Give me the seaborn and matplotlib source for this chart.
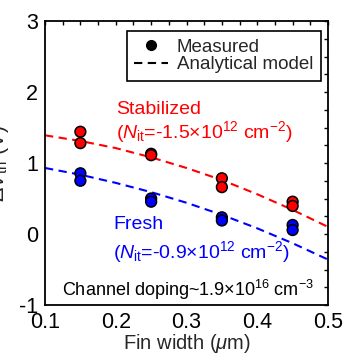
import matplotlib
matplotlib.use("Agg")
import matplotlib.pyplot as plt
from matplotlib.lines import Line2D
from matplotlib.ticker import MultipleLocator
import seaborn as sns
import pandas as pd

sns.set_style("white")
plt.rcParams["font.family"] = ["Liberation Sans", "DejaVu Sans"]
plt.rcParams["mathtext.fontset"] = "custom"
plt.rcParams["mathtext.rm"] = "Liberation Sans"
plt.rcParams["mathtext.it"] = "Liberation Sans:italic"

# Measured threshold-voltage shift (two devices per fin width)
fin_width = [0.15, 0.25, 0.35, 0.45]
stabilized_dev1 = [1.44, 1.13, 0.785, 0.455]
stabilized_dev2 = [1.28, 1.11, 0.66, 0.395]
fresh_dev1 = [0.855, 0.50, 0.235, 0.127]
fresh_dev2 = [0.75, 0.455, 0.19, 0.056]

# Analytical model curves
model_width = [0.10, 0.15, 0.20, 0.25, 0.30, 0.35, 0.40, 0.45, 0.50]
model_stabilized = [1.39, 1.31, 1.21, 1.08, 0.93, 0.76, 0.56, 0.34, 0.10]
model_fresh = [0.93, 0.835, 0.72, 0.59, 0.44, 0.27, 0.08, -0.13, -0.36]

RED = "#ff0000"
BLUE = "#0000ff"

meas = pd.DataFrame({
    "w": fin_width * 4,
    "dvth": stabilized_dev1 + stabilized_dev2 + fresh_dev1 + fresh_dev2,
    "state": ["Stabilized"] * 8 + ["Fresh"] * 8,
})
model = pd.DataFrame({
    "w": model_width * 2,
    "dvth": model_stabilized + model_fresh,
    "state": ["Stabilized"] * len(model_width) + ["Fresh"] * len(model_width),
})
palette = {"Stabilized": RED, "Fresh": BLUE}

fig = plt.figure(figsize=(3.5, 3.54), dpi=100)
ax = fig.add_axes([45 / 350, 49 / 354, 283 / 350, 284 / 354])

sns.lineplot(data=model, x="w", y="dvth", hue="state", palette=palette,
             linestyle=(0, (4, 2.6)), linewidth=1.5, legend=False, ax=ax,
             zorder=2)
sns.scatterplot(data=meas, x="w", y="dvth", hue="state", palette=palette,
                s=60, edgecolor="black", linewidth=1.1, legend=False, ax=ax,
                zorder=3)

ax.set_xlim(0.1, 0.5)
ax.set_ylim(-1, 3)
ax.set_xticks([0.1, 0.2, 0.3, 0.4, 0.5])
ax.set_xticklabels(["0.1", "0.2", "0.3", "0.4", "0.5"])
ax.set_yticks([-1, 0, 1, 2, 3])
ax.set_yticklabels(["-1", "0", "1", "2", "3"])
ax.xaxis.set_minor_locator(MultipleLocator(0.025))
ax.yaxis.set_minor_locator(MultipleLocator(0.25))
ax.tick_params(which="both", direction="in", top=True, right=True,
               length=3, width=1.0, color="black")
ax.tick_params(which="major", labelsize=15.5, colors="black")
ax.tick_params(axis="x", which="major", pad=5)
ax.tick_params(axis="y", which="major", pad=5)
for sp in ax.spines.values():
    sp.set_linewidth(1.3)
    sp.set_color("black")

ax.set_xlabel(r"Fin width ($\mu$m)", fontsize=14.5, labelpad=-1)
ax.set_ylabel(r"$\Delta V_{\mathrm{th}}$ (V)", fontsize=15.5)
ax.yaxis.set_label_coords(-0.12, 0.5)

ax.text(0.251, 0.690, "Stabilized", color=RED, fontsize=14,
        transform=ax.transAxes, va="center", ha="left")
ax.text(0.251, 0.609, r"($N_{\mathrm{it}}$=-1.5×10$^{12}$ cm$^{-2}$)",
        color=RED, fontsize=14, transform=ax.transAxes, va="center", ha="left")
ax.text(0.240, 0.282, "Fresh", color=BLUE, fontsize=14,
        transform=ax.transAxes, va="center", ha="left")
ax.text(0.240, 0.187, r"($N_{\mathrm{it}}$=-0.9×10$^{12}$ cm$^{-2}$)",
        color=BLUE, fontsize=14, transform=ax.transAxes, va="center", ha="left")
ax.text(0.06, 0.053, r"Channel doping~1.9×10$^{16}$ cm$^{-3}$", color="black",
        fontsize=13, transform=ax.transAxes, va="center", ha="left")

handles = [
    Line2D([], [], marker="o", linestyle="none", markerfacecolor="black",
           markeredgecolor="black", markersize=7),
    Line2D([], [], color="black", linestyle=(0, (4, 2.6)), linewidth=1.5),
]
leg = ax.legend(handles, ["Measured", "Analytical model"], loc="upper right",
                bbox_to_anchor=(0.975, 0.965), borderaxespad=0, fontsize=13.5,
                frameon=True, fancybox=False, edgecolor="black",
                handlelength=1.8, handletextpad=0.45, borderpad=0.42,
                labelspacing=0.0)
leg.get_frame().set_linewidth(1.2)
leg.get_frame().set_alpha(1)

fig.savefig("out.png", dpi=100)
